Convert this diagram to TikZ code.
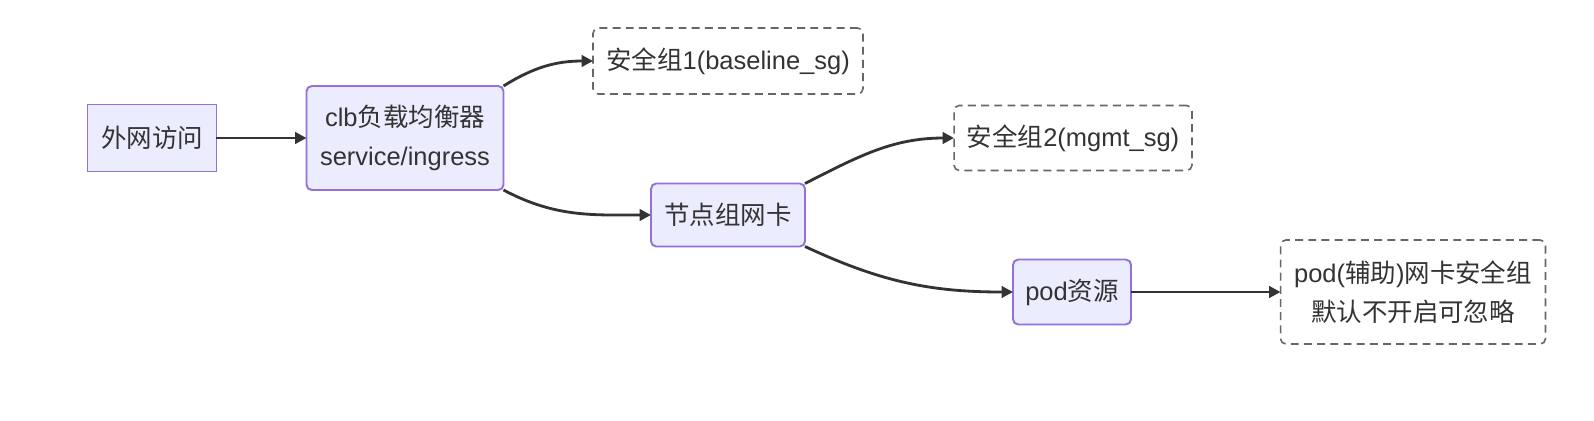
\documentclass[tikz,border=0pt]{standalone}
\usepackage{fontspec}
\setmainfont{Liberation Sans}
\newfontfamily\cjk{Noto Sans CJK SC}
\usetikzlibrary{arrows.meta}

\definecolor{boxfill}{HTML}{ECECFF}
\definecolor{boxline}{HTML}{9370DB}
\definecolor{linkcol}{HTML}{333333}
\definecolor{dashcol}{HTML}{666666}

\begin{document}
\begin{tikzpicture}[x=0.02cm,y=-0.02cm,
  every node/.style={font=\fontsize{14.5}{22.2}\selectfont, text=linkcol, align=center, inner sep=0pt, outer sep=0pt},
  box/.style={draw=boxline, fill=boxfill, line width=1.1pt, rounded corners=3pt},
  sgbox/.style={draw=dashcol, dash pattern=on 4.5pt off 3pt, line width=0.9pt, rounded corners=3pt},
  link/.style={draw=linkcol, line width=1.6pt, -{Triangle[length=6.5pt,width=6.5pt]}}]
\fill[white] (0,0) rectangle (1594,420);
\useasboundingbox (0,0) rectangle (1594,420);

% boxes
\node[box, sharp corners, minimum width=2.58cm, minimum height=1.34cm] (ext) at (152,138) {{\cjk 外网访问}};
\node[box, minimum width=3.94cm, minimum height=2.08cm] (clb) at (405,138) {clb{\cjk 负载均衡器}\\service/ingress};
\node[sgbox, minimum width=5.4cm, minimum height=1.32cm] (sg1) at (728,61) {{\cjk 安全组}1(baseline\_sg)};
\node[box, minimum width=3.08cm, minimum height=1.26cm] (nic) at (728,215) {{\cjk 节点组网卡}};
\node[sgbox, minimum width=4.76cm, minimum height=1.3cm] (sg2) at (1073,138) {{\cjk 安全组}2(mgmt\_sg)};
\node[box, minimum width=2.36cm, minimum height=1.3cm] (pod) at (1072,292) {pod{\cjk 资源}};
\node[sgbox, minimum width=5.3cm, minimum height=2.08cm] (podsg) at (1413,292) {pod({\cjk 辅助}){\cjk 网卡安全组}\\{\cjk 默认不开启可忽略}};

% links
\draw[link] (ext) -- (clb);
\draw[link] (clb.north east) to[out=32,in=180] (sg1.west);
\draw[link] (clb.south east) to[out=-28,in=180] (nic.west);
\draw[link] (nic.north east) to[out=27,in=180] (sg2.west);
\draw[link] (nic.south east) to[out=-25,in=180] (pod.west);
\draw[link] (pod) -- (podsg);
\end{tikzpicture}
\end{document}
